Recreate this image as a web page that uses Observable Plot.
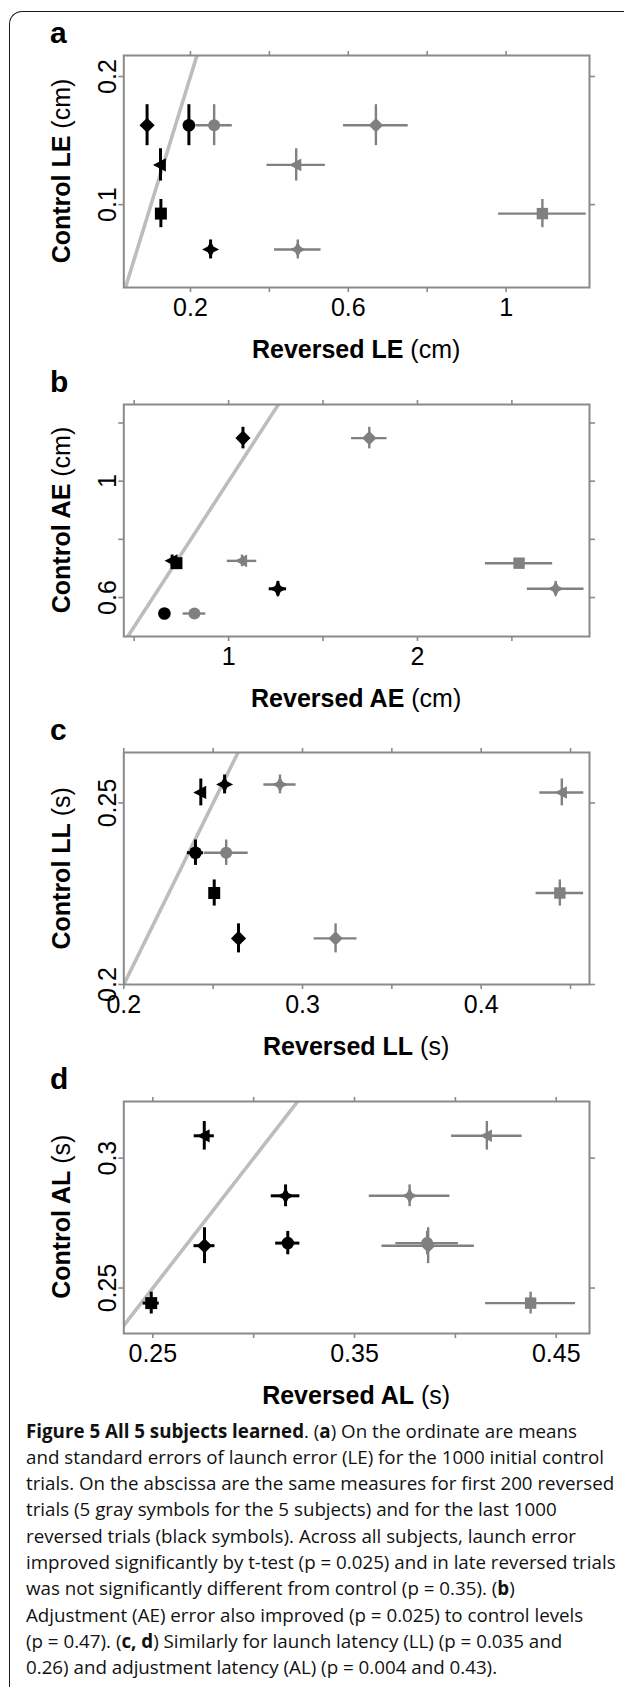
<!DOCTYPE html>
<html>
<head>
<meta charset="utf-8">
<script src="https://cdn.jsdelivr.net/npm/d3@7"></script>
<script src="https://cdn.jsdelivr.net/npm/@observablehq/plot@0.6"></script>
<style>
  body { margin: 0; background: #fff; }
  #page { position: relative; width: 624px; height: 1687px; overflow: hidden; background: #fff; }
  #border { position: absolute; left: 9px; top: 11px; width: 700px; height: 1760px;
            border-left: 1.3px solid #1a1a1a; border-top: 1.3px solid #1a1a1a; border-top-left-radius: 13px; }
  .panel { position: absolute; left: 0; }
  #overlay { position: absolute; left: 0; top: 0; }
</style>
</head>
<body>
<div id="page"><div id="border"></div></div>
<script>
// ---------- data ----------
// subjects, one symbol each: diamond, circle, triangle, square, star
const subjects = ["S1", "S2", "S3", "S4", "S5"];

// (a) launch error, cm
const leControl    = [0.162, 0.162, 0.131, 0.093, 0.065];
const leControlSE  = [0.016, 0.016, 0.0126, 0.011, 0.0074];
const leEarly      = [0.670, 0.260, 0.468, 1.092, 0.472];
const leEarlySE    = [0.082, 0.046, 0.074, 0.111, 0.059];
const leLate       = [0.090, 0.196, 0.124, 0.125, 0.251];
const leLateSE     = [0.008, 0.008, 0.008, 0.008, 0.012];
const leXTicks = [0.2, 0.4, 0.6, 0.8, 1.0];
const leXLabels = ["0.2", "", "0.6", "", "1"];
const leYTicks = [0.1, 0.2];
const leYLabels = ["0.1", "0.2"];

// (b) adjustment error, cm
const aeControl    = [1.148, 0.545, 0.726, 0.718, 0.630];
const aeControlSE  = [0.037, 0.012, 0.02, 0.012, 0.025];
const aeEarly      = [1.745, 0.819, 1.071, 2.538, 2.732];
const aeEarlySE    = [0.094, 0.060, 0.078, 0.178, 0.150];
const aeLate       = [1.076, 0.660, 0.701, 0.724, 1.261];
const aeLateSE     = [0.02, 0.02, 0.02, 0.02, 0.046];
const aeXTicks = [0.5, 1, 1.5, 2, 2.5];
const aeXLabels = ["", "1", "", "2", ""];
const aeYTicks = [0.6, 0.8, 1, 1.2];
const aeYLabels = ["0.6", "", "1", ""];

// (c) launch latency, s
const llControl    = [0.2127, 0.2363, 0.2529, 0.2252, 0.2551];
const llControlSE  = [0.0040, 0.0035, 0.0037, 0.0036, 0.0026];
const llEarly      = [0.3185, 0.2573, 0.4451, 0.4440, 0.2874];
const llEarlySE    = [0.0120, 0.0123, 0.0123, 0.0133, 0.0090];
const llLate       = [0.2642, 0.2401, 0.2431, 0.2506, 0.2564];
const llLateSE     = [0.0015, 0.0045, 0.0015, 0.0015, 0.0020];
const llXTicks = [0.2, 0.25, 0.3, 0.35, 0.4, 0.45];
const llXLabels = ["0.2", "", "0.3", "", "0.4", ""];
const llYTicks = [0.2, 0.25];
const llYLabels = ["0.2", "0.25"];

// (d) adjustment latency, s
const alControl    = [0.2663, 0.2673, 0.3086, 0.2442, 0.2855];
const alControlSE  = [0.0069, 0.0045, 0.0055, 0.0042, 0.0042];
const alEarly      = [0.3865, 0.3860, 0.4156, 0.4373, 0.3773];
const alEarlySE    = [0.0229, 0.0155, 0.0175, 0.0223, 0.0200];
const alLate       = [0.2756, 0.3169, 0.2755, 0.2492, 0.3158];
const alLateSE     = [0.0052, 0.0060, 0.0050, 0.0040, 0.0071];
const alXTicks = [0.25, 0.3, 0.35, 0.4, 0.45];
const alXLabels = ["0.25", "", "0.35", "", "0.45"];
const alYTicks = [0.25, 0.3];
const alYLabels = ["0.25", "0.3"];

const panelLetters = ["a", "b", "c", "d"];
const xTitles = [["Reversed LE", " (cm)"], ["Reversed AE", " (cm)"], ["Reversed LL", " (s)"], ["Reversed AL", " (s)"]];
const yTitles = [["Control LE", " (cm)"], ["Control AE", " (cm)"], ["Control LL", " (s)"], ["Control AL", " (s)"]];

const captionLines = [
  [["b", "Figure 5 All 5 subjects learned"], ["n", ". ("], ["b", "a"], ["n", ") On the ordinate are means"]],
  [["n", "and standard errors of launch error (LE) for the 1000 initial control"]],
  [["n", "trials. On the abscissa are the same measures for first 200 reversed"]],
  [["n", "trials (5 gray symbols for the 5 subjects) and for the last 1000"]],
  [["n", "reversed trials (black symbols). Across all subjects, launch error"]],
  [["n", "improved significantly by t-test (p = 0.025) and in late reversed trials"]],
  [["n", "was not significantly different from control (p = 0.35). ("], ["b", "b"], ["n", ")"]],
  [["n", "Adjustment (AE) error also improved (p = 0.025) to control levels"]],
  [["n", "(p = 0.47). ("], ["b", "c, d"], ["n", ") Similarly for launch latency (LL) (p = 0.035 and"]],
  [["n", "0.26) and adjustment latency (AL) (p = 0.004 and 0.43)."]]
];

// ---------- symbols ----------
const rad = size => Math.sqrt(size / Math.PI);
const symDiamond = {draw(c, s) { const r = rad(s) * 1.2; c.moveTo(0, -r); c.lineTo(r, 0); c.lineTo(0, r); c.lineTo(-r, 0); c.closePath(); }};
const symCircle = {draw(c, s) { const r = rad(s); c.moveTo(r, 0); c.arc(0, 0, r, 0, 2 * Math.PI); }};
const symTriLeft = {draw(c, s) { const r = rad(s); c.moveTo(-1.2 * r, 0); c.lineTo(0.85 * r, -1.05 * r); c.lineTo(0.85 * r, 1.05 * r); c.closePath(); }};
const symSquare = {draw(c, s) { const r = rad(s) * 0.95; c.moveTo(-r, -r); c.lineTo(r, -r); c.lineTo(r, r); c.lineTo(-r, r); c.closePath(); }};
const symStar4 = {draw(c, s) { const r = rad(s); const R = 1.35 * r, q = 0.45 * r;
  c.moveTo(0, -R); c.lineTo(q, -q); c.lineTo(R, 0); c.lineTo(q, q); c.lineTo(0, R); c.lineTo(-q, q); c.lineTo(-R, 0); c.lineTo(-q, -q); c.closePath(); }};
const symbols = [symDiamond, symCircle, symTriLeft, symSquare, symStar4];

// ---------- layout ----------
const BOX_TOPS = [55, 404, 752.3, 1100.7];
const BOX_H = 232;
const MT = 12, MB = 90;
const ML = 123.3, MR = 35;
const GRAY = "#808080", FRAME = "#8a8a8a";

const panels = [
  {control: leControl, controlSE: leControlSE, early: leEarly, earlySE: leEarlySE, late: leLate, lateSE: leLateSE,
   xDomain: [0.031, 1.2114], yDomain: [0.0353, 0.2164], xTicks: leXTicks, xLabels: leXLabels, yTicks: leYTicks, yLabels: leYLabels},
  {control: aeControl, controlSE: aeControlSE, early: aeEarly, earlySE: aeEarlySE, late: aeLate, lateSE: aeLateSE,
   xDomain: [0.445, 2.911], yDomain: [0.466, 1.2635], xTicks: aeXTicks, xLabels: aeXLabels, yTicks: aeYTicks, yLabels: aeYLabels},
  {control: llControl, controlSE: llControlSE, early: llEarly, earlySE: llEarlySE, late: llLate, lateSE: llLateSE,
   xDomain: [0.2, 0.4606], yDomain: [0.2, 0.2639], xTicks: llXTicks, xLabels: llXLabels, yTicks: llYTicks, yLabels: llYLabels},
  {control: alControl, controlSE: alControlSE, early: alEarly, earlySE: alEarlySE, late: alLate, lateSE: alLateSE,
   xDomain: [0.2356, 0.4665], yDomain: [0.2325, 0.3218], xTicks: alXTicks, xLabels: alXLabels, yTicks: alYTicks, yLabels: alYLabels}
];

function makePanel(p) {
  const gray = subjects.map((s, i) => ({s, x: p.early[i], xe: p.earlySE[i], y: p.control[i], ye: p.controlSE[i]}));
  const black = subjects.map((s, i) => ({s, x: p.late[i], xe: p.lateSE[i], y: p.control[i], ye: p.controlSE[i]}));
  const lo = Math.min(p.xDomain[0], p.yDomain[0]), hi = Math.max(p.xDomain[1], p.yDomain[1]);
  const xLab = new Map(p.xTicks.map((t, i) => [t, p.xLabels[i]]));
  const yLab = new Map(p.yTicks.map((t, i) => [t, p.yLabels[i]]));
  const tickStyle = {stroke: FRAME, strokeWidth: 1.6, label: null};
  return Plot.plot({
    width: 624, height: MT + BOX_H + MB,
    marginLeft: ML, marginRight: MR, marginTop: MT, marginBottom: MB,
    x: {domain: p.xDomain},
    y: {domain: p.yDomain},
    symbol: {domain: subjects, range: symbols},
    style: {fontFamily: "'Liberation Sans', Arial, sans-serif", fontSize: "25px", background: "transparent", overflow: "visible", color: "black"},
    marks: [
      Plot.line([lo, hi], {x: d => d, y: d => d, stroke: "#bdbdbd", strokeWidth: 3.6, clip: true}),
      Plot.ruleY(gray, {y: "y", x1: d => d.x - d.xe, x2: d => d.x + d.xe, stroke: GRAY, strokeWidth: 2.4}),
      Plot.ruleX(gray, {x: "x", y1: d => d.y - d.ye, y2: d => d.y + d.ye, stroke: GRAY, strokeWidth: 2.4}),
      Plot.dot(gray, {x: "x", y: "y", symbol: "s", r: 6, fill: GRAY, stroke: "none"}),
      Plot.ruleY(black, {y: "y", x1: d => d.x - d.xe, x2: d => d.x + d.xe, stroke: "black", strokeWidth: 3}),
      Plot.ruleX(black, {x: "x", y1: d => d.y - d.ye, y2: d => d.y + d.ye, stroke: "black", strokeWidth: 3}),
      Plot.dot(black, {x: "x", y: "y", symbol: "s", r: 6.3, fill: "black", stroke: "none"}),
      Plot.axisX({anchor: "bottom", ticks: p.xTicks, tickSize: 5, tickPadding: 6, tickFormat: d => xLab.get(d), fill: "black", fontSize: 25, ...tickStyle}),
      Plot.axisX({anchor: "top", ticks: p.xTicks, tickSize: 5, tickFormat: () => "", ...tickStyle}),
      Plot.axisY({anchor: "left", ticks: p.yTicks, tickSize: 5, tickPadding: 3, tickRotate: -90, tickFormat: d => yLab.get(d), fill: "black", fontSize: 25, ...tickStyle}),
      Plot.axisY({anchor: "right", ticks: p.yTicks, tickSize: 5, tickFormat: () => "", ...tickStyle}),
      Plot.frame({stroke: FRAME, strokeWidth: 2})
    ]
  });
}

const page = document.getElementById("page");
panels.forEach((p, i) => {
  const div = document.createElement("div");
  div.className = "panel";
  div.style.top = (BOX_TOPS[i] - MT) + "px";
  div.appendChild(makePanel(p));
  page.appendChild(div);
});

// ---------- overlay text: panel letters, axis titles, caption ----------
const svg = d3.select(page).append("svg").attr("id", "overlay")
  .attr("width", 624).attr("height", 1687)
  .style("font-family", "'Liberation Sans', Arial, sans-serif");
const boxCx = (ML + 624 - MR) / 2;
BOX_TOPS.forEach((top, i) => {
  svg.append("text").attr("x", 50).attr("y", top - 12)
    .attr("font-size", 30).attr("font-weight", "bold").text(panelLetters[i]);
  const xt = svg.append("text").attr("x", boxCx).attr("y", top + BOX_H + 71)
    .attr("text-anchor", "middle").attr("font-size", 25);
  xt.append("tspan").attr("font-weight", "bold").text(xTitles[i][0]);
  xt.append("tspan").text(xTitles[i][1]);
  const cy = top + BOX_H / 2;
  const yt = svg.append("text").attr("transform", `translate(70,${cy}) rotate(-90)`)
    .attr("text-anchor", "middle").attr("font-size", 25);
  yt.append("tspan").attr("font-weight", "bold").text(yTitles[i][0]);
  yt.append("tspan").text(yTitles[i][1]);
});

const cap = svg.append("g").style("font-family", "'Open Sans', 'Noto Sans', sans-serif");
const capNodes = captionLines.map((line, i) => {
  const t = cap.append("text").attr("x", 26).attr("y", 1437.5 + i * 26.3).attr("font-size", 16).attr("fill", "#111");
  line.forEach(([w, s]) => t.append("tspan").attr("font-weight", w === "b" ? "bold" : null).text(s));
  return t;
});
// fit caption size so that the widest line spans the same width as in the figure
const measured = capNodes[5].node().getComputedTextLength();
const fs = 16 * 590 / measured;
capNodes.forEach(t => t.attr("font-size", fs));
</script>
</body>
</html>
